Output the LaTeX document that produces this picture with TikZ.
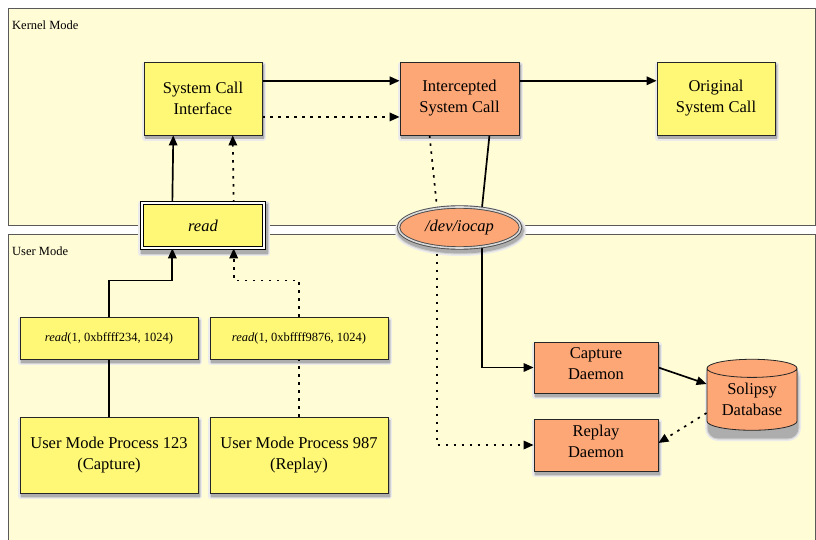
\documentclass[tikz,border=0pt]{standalone}
\usepackage{fontspec}
\setmainfont{Liberation Serif}
\usetikzlibrary{arrows.meta,shapes.geometric,calc}

\definecolor{panelbg}{RGB}{255,252,214}
\definecolor{boxyellow}{RGB}{255,247,118}
\definecolor{boxorange}{RGB}{253,167,118}

\pgfdeclarelayer{panels}
\pgfdeclarelayer{wires}
\pgfsetlayers{panels,wires,main}

% soft drop shadow of a box given by centre x, centre y, width, height
\newcommand\dropshade[4]{%
  \draw[shadeA] ({#1-(#3)/2+1},{#2-(#4)/2+3}) rectangle ({#1+(#3)/2+1},{#2+(#4)/2+3});
  \draw[shadeB] ({#1-(#3)/2+1},{#2-(#4)/2+3}) rectangle ({#1+(#3)/2+1},{#2+(#4)/2+3});
  \draw[shadeC] ({#1-(#3)/2+1},{#2-(#4)/2+3}) rectangle ({#1+(#3)/2+1},{#2+(#4)/2+3});
}

\begin{document}
\begin{tikzpicture}[x=1pt,y=-1pt,
  panel/.style={draw=black!65, line width=0.9pt, fill=panelbg},
  modelabel/.style={anchor=west, inner sep=0pt, font=\fontsize{12.5}{14}\selectfont},
  shadeA/.style={draw=black!8, fill=black!8, line width=6pt, line join=round},
  shadeB/.style={draw=black!18, fill=black!18, line width=3pt, line join=round},
  shadeC/.style={draw=black!32, fill=black!32, line width=0.8pt},
  box/.style={draw=black!85, line width=0.8pt, align=center, inner sep=0pt,
    font=\fontsize{16.5}{21}\selectfont},
  ybox/.style={box, fill=boxyellow},
  obox/.style={box, fill=boxorange},
  callbox/.style={ybox, minimum width=178pt, minimum height=42pt, font=\fontsize{12.5}{14}\selectfont},
  procbox/.style={ybox, minimum width=178pt, minimum height=76pt},
  kbox/.style={minimum width=118pt, minimum height=73pt},
  dbox/.style={obox, minimum width=124pt, minimum height=51pt},
  raised/.style={label={[align=center, yshift=4pt, font=\fontsize{16.5}{21}\selectfont]center:#1}},
  wire/.style={line width=1.7pt},
  arr/.style={wire, -{Triangle[length=10pt,width=8.5pt]}},
  dots/.style={wire, dash pattern=on 2.5pt off 5.5pt},
]
\useasboundingbox (0,0) rectangle (816,540);

% mode panels and the shadows that lie on them
\begin{pgfonlayer}{panels}
  \fill[white] (0,0) rectangle (816,540);
  \draw[panel] (8,8) rectangle (815,225);
  \draw[panel] (8,234) rectangle (815,560);
  \dropshade{203}{98.5}{118}{73}
  \dropshade{459.5}{98.5}{119}{73}
  \dropshade{716}{98.5}{118}{73}
  \dropshade{203}{225.5}{126}{49}
  \dropshade{109}{338}{178}{42}
  \dropshade{299}{338}{178}{42}
  \dropshade{109}{455}{178}{76}
  \dropshade{299}{455}{178}{76}
  \dropshade{596}{367.5}{124}{51}
  \dropshade{596}{445}{124}{52}
  \foreach \s in {shadeA,shadeB,shadeC} {
    \draw[\s] (460.5,230.5) ellipse [x radius=63pt, y radius=22.5pt];
    \draw[\s, rounded corners=10pt] (708,367) rectangle (798,438);
  }
\end{pgfonlayer}
\node[modelabel] (kernel) at (12,25) {Kernel Mode};
\node[modelabel] (user) at (12,251) {User Mode};

% kernel side
\node[ybox, kbox] (sci) at (203,98.5) {System Call\\Interface};
\node[obox, kbox, minimum width=119pt] (isc) at (459.5,98.5) {Intercepted\\System Call};
\node[ybox, kbox] (osc) at (716,98.5) {Original\\System Call};

% boundary crossings
\node[ybox, minimum width=122pt, minimum height=45pt, draw=black, line width=0.7pt,
      double=white, double distance=2.4pt, font=\fontsize{16.5}{20}\selectfont\itshape]
      (read) at (203,225.5) {read};
\node[obox, ellipse, minimum width=122pt, minimum height=41pt, draw=black!70, line width=0.9pt,
      double=white!85!black, double distance=1.6pt, font=\fontsize{16.5}{20}\selectfont\itshape]
      (iocap) at (459.5,227.5) {/dev/iocap};

% user side
\node[callbox] (call1) at (109,338) {\textit{read}(1, 0xbffff234, 1024)};
\node[callbox] (call2) at (299,338) {\textit{read}(1, 0xbffff9876, 1024)};
\node[procbox] (p123) at (109,455) {User Mode Process 123\\(Capture)};
\node[procbox] (p987) at (299,455) {User Mode Process 987\\(Replay)};

\node[dbox, raised={Capture\\Daemon}] (capture) at (596,367.5) {};
\node[dbox, minimum height=52pt, raised={Replay\\Daemon}] (replay) at (596,445) {};
\node[obox, cylinder, shape border rotate=90, aspect=0.3, minimum width=90pt, minimum height=71pt]
      (db) at (752,399.5) {Solipsy\\Database};

% connector end points
\coordinate (sciE1) at ($(sci.north east)!.26!(sci.south east)$);
\coordinate (sciE2) at ($(sci.north east)!.75!(sci.south east)$);
\coordinate (iscW1) at ($(isc.north west)!.26!(isc.south west)$);
\coordinate (iscW2) at ($(isc.north west)!.75!(isc.south west)$);
\coordinate (iscE1) at ($(isc.north east)!.26!(isc.south east)$);
\coordinate (oscW1) at ($(osc.north west)!.26!(osc.south west)$);
\coordinate (sciS1) at ($(sci.south west)!.25!(sci.south east)$);
\coordinate (sciS2) at ($(sci.south west)!.75!(sci.south east)$);
\coordinate (readN1) at ($(read.north west)!.25!(read.north east)$);
\coordinate (readN2) at ($(read.north west)!.75!(read.north east)$);
\coordinate (readS1) at ($(read.south west)!.25!(read.south east)$);
\coordinate (readS2) at ($(read.south west)!.75!(read.south east)$);
\coordinate (iscS1) at ($(isc.south west)!.25!(isc.south east)$);
\coordinate (iscS2) at ($(isc.south west)!.75!(isc.south east)$);
\coordinate (ioN1) at ($(iocap.center)+(-22.5,-20)$);
\coordinate (ioN2) at ($(iocap.center)+(22.5,-20)$);
\coordinate (ioS1) at ($(iocap.center)+(-22.5,18)$);
\coordinate (ioS2) at ($(iocap.center)+(22.5,18)$);
\coordinate (dbW) at ($(db.west)+(0,13.5)$);
\coordinate (repE) at ($(replay.east)+(0,-2)$);

\begin{pgfonlayer}{wires}
  % kernel mode calls
  \draw[arr] (sciE1) -- (iscW1);
  \draw[arr, dots] (sciE2) -- (iscW2);
  \draw[arr] (iscE1) -- (oscW1);
  \draw[arr] (readN1) -- (sciS1);
  \draw[arr, dots] (readN2) -- (sciS2);
  % user mode calls
  \draw[wire] (p123.north) -- (call1.south);
  \draw[arr] (call1.north) -- ++(0,-36) -| (readS1);
  \draw[dots] (p987.north) -- (call2.south);
  \draw[arr, dots] (call2.north) -- ++(0,-36) -| (readS2);
  % device traffic
  \draw[dots] (iscS1) -- (ioN1);
  \draw[wire] (iscS2) -- (ioN2);
  \draw[arr, dots] (ioS1) |- (replay.west);
  \draw[arr] (ioS2) |- (capture.west);
  \draw[arr] (capture.east) -- (db);
  \draw[arr, dots] (dbW) -- (repE);
\end{pgfonlayer}
\end{tikzpicture}
\end{document}
